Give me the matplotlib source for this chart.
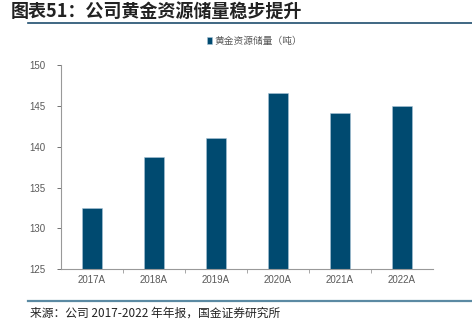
import numpy as np
import matplotlib.pyplot as plt
from matplotlib.lines import Line2D

plt.rcParams['font.family'] = ['Noto Sans CJK SC', 'DejaVu Sans']

# data
years = ['2017A', '2018A', '2019A', '2020A', '2021A', '2022A']
reserves = [132.5, 138.7, 141.0, 146.5, 144.1, 145.0]

bar_color = '#004a70'
grey = '#595959'

fig = plt.figure(figsize=(4.72, 3.21), dpi=100)
ax = fig.add_axes([0.129, 0.161, 0.788, 0.637])

x = np.arange(len(years))
ax.bar(x, reserves, width=0.32, color=bar_color, edgecolor='#a9c4d6', linewidth=0.4,
       label='黄金资源储量（吨）')

ax.set_ylim(125, 150)
ax.set_yticks(np.arange(125, 151, 5))
ax.set_xlim(-0.5, len(years) - 0.5)
ax.set_xticks(x)
ax.set_xticklabels(years)
ax.tick_params(axis='x', length=0, labelsize=7, colors=grey, pad=4)
ax.tick_params(axis='y', length=3, labelsize=7, colors=grey, pad=8, width=0.6)
for lbl in ax.get_xticklabels() + ax.get_yticklabels():
    lbl.set_fontfamily(['Liberation Sans', 'DejaVu Sans'])
# minor ticks between categories on x
ax.set_xticks(np.arange(0.5, len(years) - 0.5, 1), minor=True)
ax.tick_params(axis='x', which='minor', length=3, color='#999999', width=0.6)

for s in ['top', 'right']:
    ax.spines[s].set_visible(False)
for s in ['left', 'bottom']:
    ax.spines[s].set_color('#999999')
    ax.spines[s].set_linewidth(0.8)

leg = ax.legend(loc='lower center', bbox_to_anchor=(0.52, 1.05), frameon=False,
                fontsize=7, handlelength=0.6, handleheight=0.6, handletextpad=0.2)
for t in leg.get_texts():
    t.set_color(grey)

# title and frame lines
fig.text(0.022, 0.962, '图表51：公司黄金资源储量稳步提升', fontsize=13, fontweight='bold',
         color='#222222', va='center', ha='left')
fig.add_artist(Line2D([0.059, 1.0], [0.929, 0.929], color='#1f4e6e', linewidth=1.2))
fig.add_artist(Line2D([0.059, 1.0], [0.062, 0.062], color='#5b8aa3', linewidth=1.6))
fig.text(0.063, 0.025, '来源：公司 2017-2022 年年报，国金证券研究所', fontsize=8.5,
         color='#222222', va='center', ha='left')

fig.savefig('out.png', dpi=100)
